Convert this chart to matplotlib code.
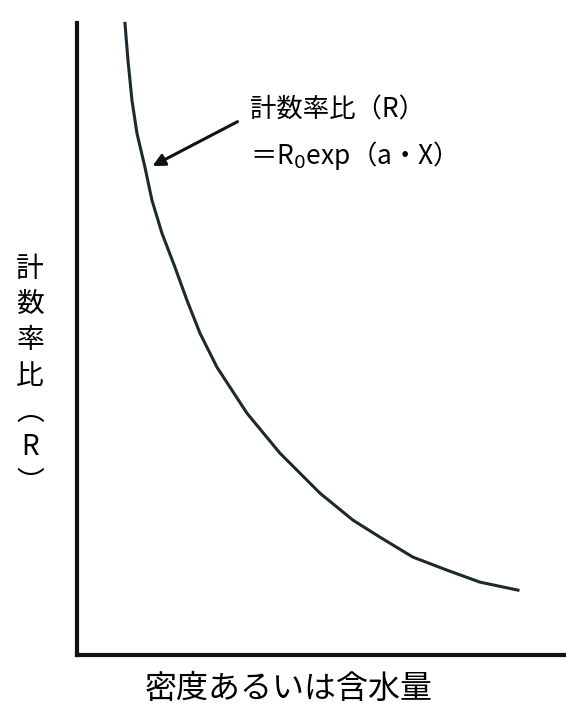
import matplotlib
matplotlib.use("Agg")
import matplotlib.pyplot as plt

plt.rcParams['font.family'] = ['Noto Sans CJK JP', 'DejaVu Sans']

# curve (arbitrary units, origin at the axes corner)
curve_x = [48, 51, 55, 60, 68, 75, 85, 98, 110, 123, 140, 170, 203, 243,
           276, 303, 336, 370, 403, 441]
curve_y = [632, 595, 555, 522, 488, 455, 422, 388, 355, 322, 288, 242, 202,
           162, 135, 118, 98, 85, 73, 65]

ylabel = ["計", "数", "率", "比", "︵", "R", "︶"]
xlabel = "密度あるいは含水量"
note_lines = ["計数率比（R）", "＝R$_0$exp（a・X）"]

fig = plt.figure(figsize=(5.66, 7.09), dpi=100)
ax = fig.add_axes([0.136, 0.076, 0.864, 0.891])
ax.set_xlim(0, 489)
ax.set_ylim(0, 632)

for s in ["top", "right"]:
    ax.spines[s].set_visible(False)
for s in ["left", "bottom"]:
    ax.spines[s].set_linewidth(3)
    ax.spines[s].set_color("#111111")
ax.set_xticks([])
ax.set_yticks([])

ax.plot(curve_x, curve_y, color="#1c2a30", lw=2.2, clip_on=False,
        solid_joinstyle="round")

# arrow pointing to the curve
ax.annotate("", xy=(73, 488), xytext=(163, 535),
            arrowprops=dict(arrowstyle="-|>", color="#111111", lw=2.2,
                            mutation_scale=18))

ax.text(173, 545, note_lines[0], fontsize=19, ha="left", va="center")
ax.text(173, 500, note_lines[1], fontsize=19, ha="left", va="center")

fig.text(0.053, 0.47, "\n".join(ylabel), fontsize=20, ha="center",
         va="center", linespacing=1.25)
fig.text(0.51, 0.028, xlabel, fontsize=23, ha="center", va="center")

fig.savefig("out.png", dpi=100)
